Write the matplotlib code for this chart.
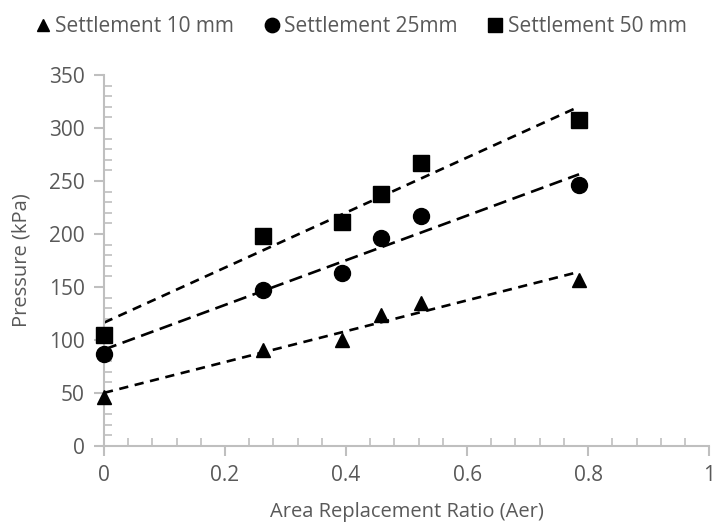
import numpy as np
import matplotlib
matplotlib.use("Agg")
import matplotlib.pyplot as plt
from matplotlib.ticker import MultipleLocator

x = [0.0, 0.262, 0.393, 0.458, 0.524, 0.785]
s10 = [46, 91, 100, 124, 135, 157]
s25 = [87, 147, 163, 196, 217, 246]
s50 = [105, 198, 211, 238, 267, 308]
labels = ["Settlement 10 mm", "Settlement 25mm", "Settlement 50 mm"]
markers = ["^", "o", "s"]
msizes = [10, 11.5, 11]
dash_styles = [(3.5, 2.5), (5, 2.5), (3.5, 2.5)]

plt.rcParams['font.family'] = ['Open Sans', 'DejaVu Sans']
gray = '#595959'
axc = '#bfbfbf'

fig = plt.figure(figsize=(7.12, 5.22), dpi=100)
ax = fig.add_axes([0.146, 0.1456, 0.85, 0.7107])

handles = []
xa = np.array(x)
for ys, m, ms, lab, dsh in zip([s10, s25, s50], markers, msizes, labels, dash_styles):
    h, = ax.plot(x, ys, linestyle='none', marker=m, markersize=ms, color='black', label=lab, clip_on=False, zorder=3)
    handles.append(h)
    k, b = np.polyfit(xa, np.array(ys, float), 1)
    xs = np.array([xa.min(), xa.max()])
    ax.plot(xs, k * xs + b, color='black', linewidth=1.9, dashes=dsh, zorder=2)

ax.set_xlim(0, 1)
ax.set_ylim(0, 350)
ax.xaxis.set_minor_locator(MultipleLocator(0.04))
ax.yaxis.set_major_locator(MultipleLocator(50))
ax.yaxis.set_minor_locator(MultipleLocator(10))
ax.set_xticks([0, 0.2, 0.4, 0.6, 0.8, 1.0])
ax.set_xticklabels(['0', '0.2', '0.4', '0.6', '0.8', '1'])

for s in ['top', 'right']:
    ax.spines[s].set_visible(False)
for s in ['left', 'bottom']:
    ax.spines[s].set_color(axc)
    ax.spines[s].set_linewidth(1.5)

ax.tick_params(which='major', direction='out', length=7, width=1.5, color=axc, labelcolor=gray, labelsize=15, pad=7)
ax.tick_params(which='minor', direction='in', length=6, width=1.2, color=axc)

ax.set_xlabel('Area Replacement Ratio (Aer)', color=gray, fontsize=14.5, labelpad=11)
ax.set_ylabel('Pressure (kPa)', color=gray, fontsize=14.5, labelpad=12)

fig.legend(handles=handles, labels=labels, loc='upper center', bbox_to_anchor=(0.508, 1.005), ncol=3, frameon=False,
           fontsize=15, labelcolor=gray, handlelength=0.6, handletextpad=0.3, columnspacing=1.5, markerscale=0.9)

fig.savefig('out.png', dpi=100)
